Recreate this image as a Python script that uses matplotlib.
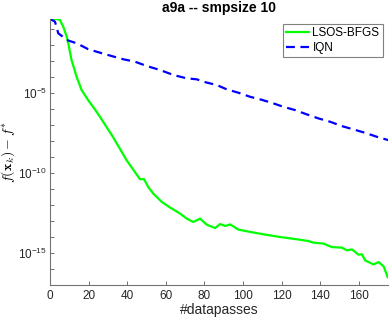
#!/usr/bin/env python3
# -*- coding: utf-8 -*-

import matplotlib
matplotlib.use('Agg')
import matplotlib.pyplot as plt
import numpy as np

# LSOS-BFGS curve (x = datapasses, y = log10 of f(x_k) - f*)
lsos_x = [0, 3.1, 5.2, 6.9, 8.7, 9.5, 11.2, 13.8, 16.4, 19.8, 23.3, 25.9,
          32.6, 39.7, 46.6, 48.7, 50.9, 53.5, 57.9, 62.2, 67.4, 70.8, 74.2,
          77.7, 81.2, 85.5, 88.1, 90.7, 93.3, 97.6, 101.9, 110.5, 119.2,
          127.8, 133.8, 136.4, 141.6, 146.0, 151.1, 153.7, 156.3, 159.7,
          161.5, 163.2, 167.5, 170.1, 172.7, 174.8]
lsos_log = [-0.39, -0.39, -0.46, -0.88, -1.5, -1.91, -2.96, -4.0, -4.83,
            -5.46, -6.04, -6.5, -7.75, -9.21, -10.39, -10.39, -10.88, -11.29,
            -11.81, -12.16, -12.54, -12.85, -13.06, -12.85, -13.23, -13.44,
            -13.19, -13.31, -13.21, -13.54, -13.64, -13.83, -14.0, -14.14,
            -14.25, -14.35, -14.41, -14.63, -14.66, -14.83, -14.77, -15.1,
            -15.08, -15.46, -15.71, -15.56, -15.83, -16.5]

# IQN curve
iqn_x = [0, 2.6, 4.1, 4.3, 7.8, 8.7, 13.8, 19.8, 25.9, 32.0, 38.0, 44.0,
         50.1, 57.0, 63.9, 70.8, 76.0, 79.4, 86.4, 91.6, 97.6, 103.6, 108.8,
         114.9, 120.9, 126.9, 133.0, 139.0, 145.1, 151.1, 157.2, 163.2,
         169.3, 175.3]
iqn_log = [-0.39, -0.56, -1.19, -1.29, -1.6, -1.71, -1.91, -2.28, -2.5,
           -2.71, -2.91, -3.06, -3.33, -3.58, -3.89, -4.1, -4.16, -4.31,
           -4.52, -4.79, -5.0, -5.25, -5.41, -5.63, -5.88, -6.08, -6.35,
           -6.6, -6.81, -7.08, -7.29, -7.5, -7.75, -7.96]

x_ticks = [0, 20, 40, 60, 80, 100, 120, 140, 160]
y_decades = list(range(-17, 0))
y_label_decades = [-15, -10, -5]


def make_plot(save_path='out.png'):
    plt.rcParams['font.family'] = ['Liberation Sans', 'DejaVu Sans']
    plt.rcParams['mathtext.fontset'] = 'custom'
    plt.rcParams['mathtext.rm'] = 'Liberation Sans'
    plt.rcParams['mathtext.it'] = 'Liberation Sans:italic'

    fig = plt.figure(figsize=(3.9, 3.2), dpi=100)
    ax = fig.add_axes([0.128, 0.109, 0.867, 0.832])

    ax.plot(lsos_x, 10.0 ** np.array(lsos_log), color=(0, 1, 0), lw=1.6,
            label='LSOS-BFGS')
    ax.plot(iqn_x, 10.0 ** np.array(iqn_log), color=(0, 0, 1), lw=1.6,
            dashes=(4, 2.5), label='IQN')

    ax.set_yscale('log')
    ax.set_xlim(0, 175)
    ax.set_ylim(1e-17, 10 ** -0.39)

    # ticks: every decade, labels only at 1e-5, 1e-10, 1e-15
    ax.set_yticks([10.0 ** d for d in y_decades])
    ax.set_yticklabels(['$10^{%d}$' % d if d in y_label_decades else ''
                        for d in y_decades])
    ax.yaxis.set_minor_locator(matplotlib.ticker.NullLocator())
    ax.set_xticks(x_ticks)
    ax.tick_params(direction='in', length=3, width=0.6, colors='0.35',
                   labelsize=8.5, labelcolor='0.15')
    ax.tick_params(axis='y', pad=2)

    for side in ['top', 'right']:
        ax.spines[side].set_visible(False)
    for side in ['left', 'bottom']:
        ax.spines[side].set_color('0.45')
        ax.spines[side].set_linewidth(0.8)

    ax.set_title('a9a -- smpsize 10', fontsize=10, fontweight='bold', pad=5)
    ax.set_xlabel('#datapasses', fontsize=10, color='0.15', labelpad=1)
    ylab = ax.set_ylabel(r'$f(\mathbf{x}_k) - f^{*}$', fontsize=10)
    ylab.set_math_fontfamily('cm')
    ax.yaxis.set_label_coords(-0.097, 0.5)

    leg = ax.legend(loc='upper right', bbox_to_anchor=(0.985, 0.981),
                    fontsize=8.5, fancybox=False, framealpha=1,
                    borderpad=0.3, labelspacing=0.2, handlelength=1.9,
                    handletextpad=0.3, borderaxespad=0)
    leg.get_frame().set_edgecolor('0.5')
    leg.get_frame().set_linewidth(0.8)

    fig.savefig(save_path, dpi=100)


def main():
    make_plot('out.png')


if __name__ == "__main__":
    main()
